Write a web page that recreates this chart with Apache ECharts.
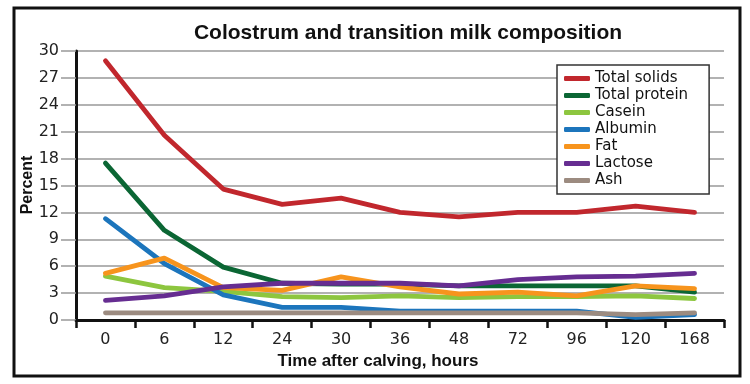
<!DOCTYPE html>
<html>
<head>
<meta charset="utf-8">
<script src="https://cdn.jsdelivr.net/npm/echarts@6/dist/echarts.min.js"></script>
<style>html,body{margin:0;padding:0;background:#fff}#c{width:750px;height:384px}</style>
</head>
<body>
<div id="c"></div>
<script>
var categories = ['0','6','12','24','30','36','48','72','96','120','168'];
var totalSolids  = [28.9, 20.6, 14.6, 12.9, 13.6, 12.0, 11.5, 12.0, 12.0, 12.7, 12.0];
var totalProtein = [17.5, 10.0, 5.9, 4.1, 4.0, 4.0, 3.8, 3.8, 3.8, 3.8, 3.1];
var casein       = [4.9, 3.6, 3.2, 2.6, 2.5, 2.7, 2.5, 2.6, 2.6, 2.7, 2.4];
var albumin      = [11.3, 6.3, 2.8, 1.4, 1.4, 1.0, 1.0, 1.0, 1.0, 0.3, 0.6];
var fat          = [5.2, 6.9, 3.6, 3.3, 4.8, 3.7, 2.9, 3.1, 2.7, 3.8, 3.5];
var lactose      = [2.2, 2.7, 3.7, 4.1, 4.1, 4.1, 3.8, 4.5, 4.8, 4.9, 5.2];
var ash          = [0.8, 0.8, 0.8, 0.8, 0.8, 0.8, 0.8, 0.8, 0.8, 0.6, 0.8];
var yTicks = [0, 3, 6, 9, 12, 15, 18, 21, 24, 27, 30];
var yTitle = 'Percent';

var names = ['Total solids','Total protein','Casein','Albumin','Fat','Lactose','Ash'];
var datas = [totalSolids, totalProtein, casein, albumin, fat, lactose, ash];
var colors = ['#c1272d','#0b6634','#8dc63f','#1c75bc','#f7941d','#662d91','#9c8b80'];

var chart = echarts.init(document.getElementById('c'));
chart.setOption({
  backgroundColor: '#fff',
  animation: false,
  title: {
    text: 'Colostrum and transition milk composition',
    left: 403, top: 18, textAlign: 'center',
    textStyle: {fontFamily: 'Liberation Sans, Arial, sans-serif', fontWeight: 'bold', fontSize: 21, color: '#111'}
  },
  legend: {
    orient: 'vertical',
    left: 557, top: 65,
    padding: [5, 21, 5, 7],
    itemGap: 0,
    itemWidth: 26, itemHeight: 5,
    icon: 'roundRect',
    borderColor: '#333', borderWidth: 1.5,
    backgroundColor: '#fff',
    data: names,
    textStyle: {fontFamily: 'DejaVu Sans, sans-serif', fontSize: 15, color: '#111', lineHeight: 17, height: 17}
  },
  graphic: [{
    type: 'rect', shape: {x: 14, y: 8, width: 726, height: 368},
    style: {fill: 'none', stroke: '#111', lineWidth: 3}, z: 100, silent: true
  }, {
    type: 'text', x: 28, y: 185, rotation: Math.PI / 2,
    style: {text: yTitle, align: 'center', verticalAlign: 'middle',
      font: 'bold 16px "Liberation Sans", Arial, sans-serif', fill: '#111'},
    z: 100, silent: true
  }],
  grid: {left: 76, right: 26, top: 51, bottom: 64},
  xAxis: {
    type: 'category', data: categories, boundaryGap: true,
    name: 'Time after calving, hours', nameLocation: 'middle', nameGap: 32,
    nameTextStyle: {fontFamily: 'Liberation Sans, Arial, sans-serif', fontWeight: 'bold', fontSize: 17, color: '#111', padding: [0, 44, 0, 0]},
    axisLine: {lineStyle: {color: '#111', width: 3}},
    axisTick: {show: true, length: 8, interval: 0, lineStyle: {color: '#111', width: 2.5}},
    axisLabel: {margin: 12, fontFamily: 'DejaVu Sans, sans-serif', fontSize: 16, color: '#222'}
  },
  yAxis: {
    type: 'value', min: 0, max: 30, interval: 3,
    axisLine: {show: true, lineStyle: {color: '#111', width: 3}},
    axisTick: {show: true, length: 15, lineStyle: {color: '#999', width: 1.5}},
    axisLabel: {margin: 17, fontFamily: 'DejaVu Sans, sans-serif', fontSize: 16, color: '#222',
      formatter: function (v) { return yTicks.indexOf(v) >= 0 ? String(v) : ''; }},
    splitLine: {lineStyle: {color: '#999', width: 1.5}}
  },
  series: names.map(function (n, i) {
    return {
      name: n, type: 'line', data: datas[i],
      symbol: 'none', smooth: false,
      lineStyle: {color: colors[i], width: 4.8, cap: 'round', join: 'round'},
      itemStyle: {color: colors[i]},
      z: 2 + i
    };
  })
});
</script>
</body>
</html>
